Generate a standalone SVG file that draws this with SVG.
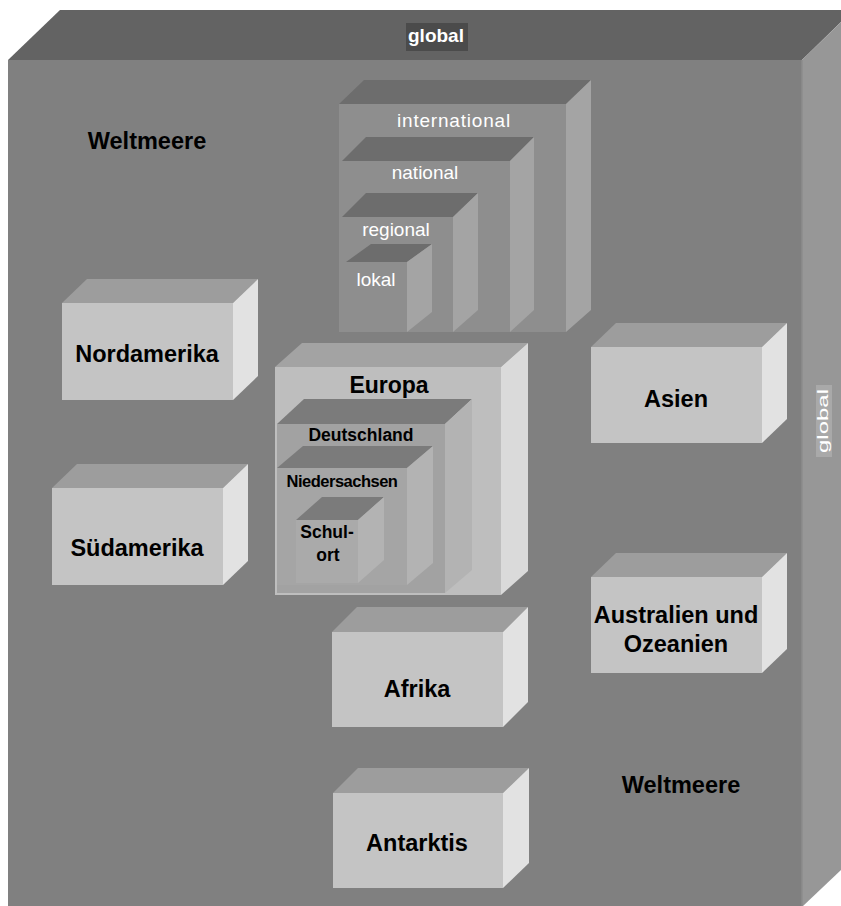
<svg xmlns="http://www.w3.org/2000/svg" width="841" height="906" viewBox="0 0 841 906">
<style>
text{font-family:"Liberation Sans",Arial,sans-serif;}
.cont{font-size:23.5px;font-weight:bold;fill:#000;text-anchor:middle;}
.scale{font-size:19px;fill:#fff;text-anchor:middle;}
.eu{font-weight:bold;fill:#000;text-anchor:middle;}
.ct{fill:#9d9d9d}.cf{fill:#c4c4c4}.cs{fill:#e2e2e2}
.it{fill:#6d6d6d}.if{fill:#8e8e8e}.is{fill:#a4a4a4}
.dt{fill:#7b7b7b}.df{fill:#a2a2a2}.ds{fill:#b3b3b3}
</style>
<rect width="841" height="906" fill="#fff"/>
<g id="global-box">
<polygon points="8,60 60,10 841,10 841,22 802,60" fill="#636363"/>
<polygon points="802,60 841,22 841,870 803,906 802,906" fill="#979797"/>
<rect x="8" y="60" width="794" height="846" fill="#808080"/>
<line x1="802" y1="60" x2="802" y2="906" stroke="#8c8c8c" stroke-width="1.5"/>
<rect x="406" y="23" width="62" height="28" fill="#4b4b4b"/>
<text x="436" y="42" font-size="19" font-weight="bold" fill="#fff" text-anchor="middle">global</text>
<rect x="816" y="385" width="16" height="72" fill="#a9a9a9"/>
<text transform="translate(828,421) rotate(-90)" font-size="15" fill="#fff" text-anchor="middle" textLength="64" lengthAdjust="spacingAndGlyphs">global</text>
</g>
<g id="weltmeere-1"><text class="cont" x="147" y="149">Weltmeere</text></g>
<g id="weltmeere-2"><text class="cont" x="681" y="793">Weltmeere</text></g>
<g id="international">
<polygon class="it" points="339,104 364,80 591,80 566,104"/>
<polygon class="is" points="566,104 591,80 591,310 566,332"/>
<rect class="if" x="339" y="104" width="227" height="228"/>
<text class="scale" x="454" y="127" font-size="20" letter-spacing="0.8">international</text>
</g>
<g id="national">
<polygon class="it" points="342,161 366,137 534,137 510,161"/>
<polygon class="is" points="510,161 534,137 534,310 510,332"/>
<rect class="if" x="342" y="161" width="168" height="171"/>
<text class="scale" x="425" y="179">national</text>
</g>
<g id="regional">
<polygon class="it" points="342,217 366,193 478,193 453,217"/>
<polygon class="is" points="453,217 478,193 478,310 453,332"/>
<rect class="if" x="342" y="217" width="111" height="115"/>
<text class="scale" x="396" y="236">regional</text>
</g>
<g id="lokal">
<polygon class="it" points="346,262 371,244 432,244 407,262"/>
<polygon class="is" points="407,262 432,244 432,312 407,332"/>
<rect class="if" x="346" y="262" width="61" height="70"/>
<text class="scale" x="376" y="286">lokal</text>
</g>
<g id="europa">
<polygon points="275,367 302,343 528,343 501,367" fill="#a3a3a3"/>
<polygon points="501,367 528,343 528,571 501,595" fill="#dadada"/>
<rect x="275" y="367" width="226" height="228" fill="#bebebe"/>
<text class="eu" x="389" y="393" font-size="23">Europa</text>
</g>
<g id="deutschland">
<polygon class="dt" points="277,424 304,399 472,399 445,424"/>
<polygon class="ds" points="445,424 472,399 472,570 445,593"/>
<rect class="df" x="277" y="424" width="168" height="169"/>
<text class="eu" x="361" y="441" font-size="17.5">Deutschland</text>
</g>
<g id="niedersachsen">
<polygon class="dt" points="277,468 303,446 433,446 407,468"/>
<polygon class="ds" points="407,468 433,446 433,563 407,585"/>
<rect x="277" y="468" width="130" height="117" fill="#a5a5a5"/>
<text class="eu" x="342" y="487" font-size="16.5" letter-spacing="-0.5">Niedersachsen</text>
</g>
<g id="schulort">
<polygon class="dt" points="296,520 322,497 384,497 358,520"/>
<polygon class="ds" points="358,520 384,497 384,560 358,583"/>
<rect x="296" y="520" width="62" height="63" fill="#aaaaaa"/>
<text class="eu" x="327" y="538" font-size="17.5">Schul-</text>
<text class="eu" x="328" y="561" font-size="17.5">ort</text>
</g>
<g id="nordamerika">
<polygon class="ct" points="62,303 87,279 258,279 233,303"/>
<polygon class="cs" points="233,303 258,279 258,376 233,400"/>
<rect class="cf" x="62" y="303" width="171" height="97"/>
<text class="cont" x="147" y="362">Nordamerika</text>
</g>
<g id="suedamerika">
<polygon class="ct" points="52,488 77,464 248,464 223,488"/>
<polygon class="cs" points="223,488 248,464 248,561 223,585"/>
<rect class="cf" x="52" y="488" width="171" height="97"/>
<text class="cont" x="137" y="556">Südamerika</text>
</g>
<g id="asien">
<polygon class="ct" points="591,347 616,323 787,323 762,347"/>
<polygon class="cs" points="762,347 787,323 787,419 762,443"/>
<rect class="cf" x="591" y="347" width="171" height="96"/>
<text class="cont" x="676" y="407">Asien</text>
</g>
<g id="australien">
<polygon class="ct" points="591,577 616,553 787,553 762,577"/>
<polygon class="cs" points="762,577 787,553 787,649 762,673"/>
<rect class="cf" x="591" y="577" width="171" height="96"/>
<text class="cont" x="676" y="623">Australien und</text>
<text class="cont" x="676" y="652">Ozeanien</text>
</g>
<g id="afrika">
<polygon class="ct" points="332,632 357,607 528,607 503,632"/>
<polygon class="cs" points="503,632 528,607 528,702 503,727"/>
<rect class="cf" x="332" y="632" width="171" height="95"/>
<text class="cont" x="417" y="697">Afrika</text>
</g>
<g id="antarktis">
<polygon class="ct" points="333,793 358,768 529,768 503,793"/>
<polygon class="cs" points="503,793 529,768 529,863 503,888"/>
<rect class="cf" x="333" y="793" width="170" height="95"/>
<text class="cont" x="417" y="851">Antarktis</text>
</g>
<g id="connectors"/>
</svg>
